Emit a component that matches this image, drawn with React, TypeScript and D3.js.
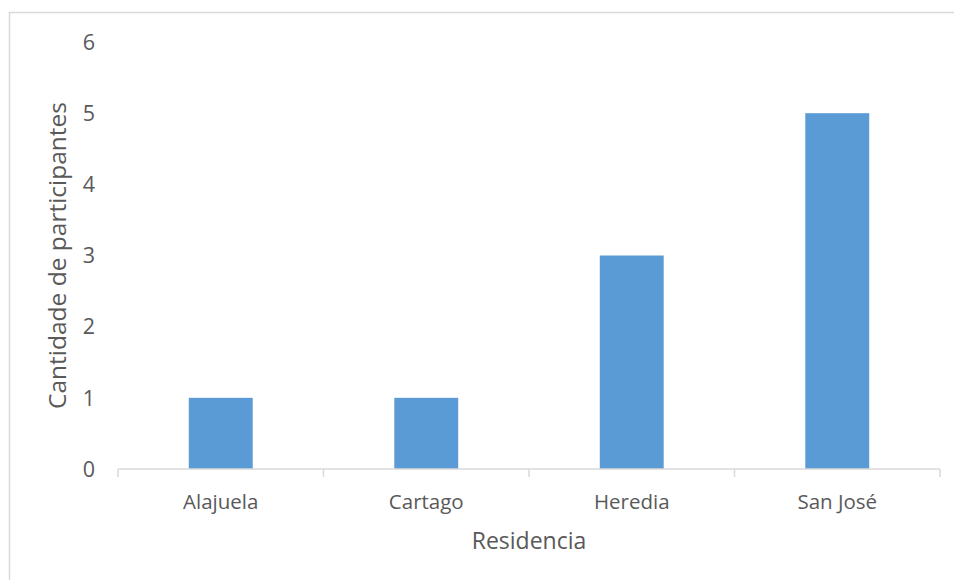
import React from "react";
import * as d3 from "d3";

const categories = ["Alajuela", "Cartago", "Heredia", "San José"];
const values = [1, 1, 3, 5];
const yTicks = [0, 1, 2, 3, 4, 5, 6];
const xTitle = "Residencia";
const yTitle = "Cantidade de participantes";

const W = 954;
const H = 580;
const plot = { left: 118, right: 940, top: 42, bottom: 469 };
const font = "'Open Sans', 'DejaVu Sans', sans-serif";
const textColor = "#595959";
const axisColor = "#d9d9d9";
const barColor = "#5B9BD5";

export default function App() {
  const x = d3
    .scaleBand<string>()
    .domain(categories)
    .range([plot.left, plot.right])
    .paddingInner(0)
    .paddingOuter(0);
  const y = d3.scaleLinear().domain([0, 6]).range([plot.bottom, plot.top]);
  const barW = x.bandwidth() * 0.311;
  const boundaries = [...categories.map((c) => x(c) as number), plot.right];

  return (
    <svg
      width={W}
      height={H}
      style={{ position: "absolute", left: 0, top: 0, background: "#fff" }}
    >
      <rect x={0} y={0} width={W} height={H} fill="#fff" />
      <rect
        x={9.5}
        y={12.5}
        width={W + 10}
        height={H + 10}
        fill="none"
        stroke={axisColor}
        strokeWidth={1.5}
      />
      {categories.map((c, i) => {
        const cx = (x(c) as number) + x.bandwidth() / 2;
        return (
          <rect
            key={c}
            x={cx - barW / 2}
            y={y(values[i])}
            width={barW}
            height={y(0) - y(values[i])}
            fill={barColor}
          />
        );
      })}
      <line
        x1={plot.left}
        x2={plot.right}
        y1={plot.bottom}
        y2={plot.bottom}
        stroke={axisColor}
        strokeWidth={1.5}
      />
      {boundaries.map((bx, i) => (
        <line
          key={i}
          x1={bx}
          x2={bx}
          y1={plot.bottom}
          y2={plot.bottom + 8}
          stroke={axisColor}
          strokeWidth={1.5}
        />
      ))}
      {yTicks.map((t) => (
        <text
          key={t}
          x={95}
          y={y(t)}
          dy="0.36em"
          textAnchor="end"
          fontFamily={font}
          fontSize={21.5}
          fill={textColor}
        >
          {t}
        </text>
      ))}
      {categories.map((c) => (
        <text
          key={c}
          x={(x(c) as number) + x.bandwidth() / 2}
          y={509}
          textAnchor="middle"
          fontFamily={font}
          fontSize={20.5}
          fill={textColor}
        >
          {c}
        </text>
      ))}
      <text
        x={529}
        y={549}
        textAnchor="middle"
        fontFamily={font}
        fontSize={23}
        fill={textColor}
      >
        {xTitle}
      </text>
      <text
        transform={`translate(66,${(plot.top + plot.bottom) / 2}) rotate(-90)`}
        textAnchor="middle"
        fontFamily={font}
        fontSize={24.5}
        fill={textColor}
      >
        {yTitle}
      </text>
    </svg>
  );
}
